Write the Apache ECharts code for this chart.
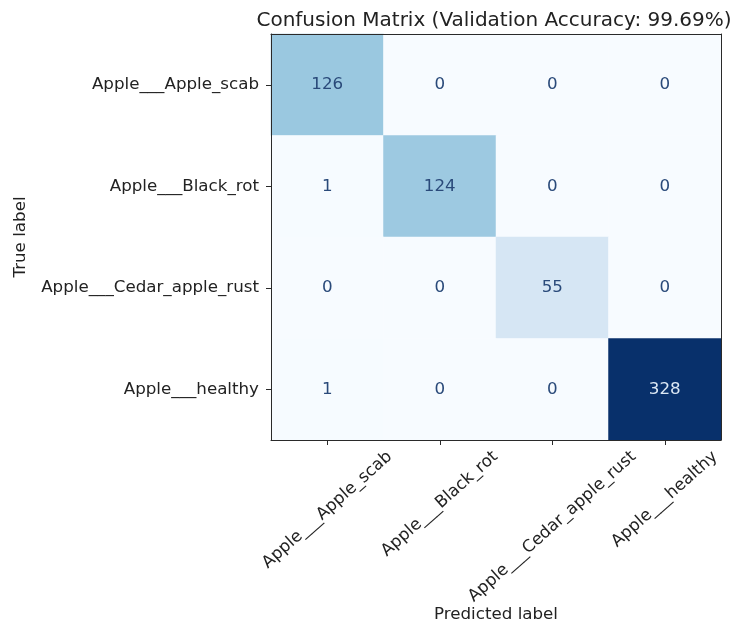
<!DOCTYPE html>
<html>
<head>
<meta charset="utf-8">
<script src="https://cdn.jsdelivr.net/npm/echarts@6/dist/echarts.min.js"></script>
<style>html,body{margin:0;padding:0;background:#fff;}#c{width:734px;height:625px;}</style>
</head>
<body>
<div id="c"></div>
<script>
const classes = ['Apple___Apple_scab', 'Apple___Black_rot', 'Apple___Cedar_apple_rust', 'Apple___healthy'];
const row0 = [126, 0, 0, 0];
const row1 = [1, 124, 0, 0];
const row2 = [0, 0, 55, 0];
const row3 = [1, 0, 0, 328];
const matrix = [row0, row1, row2, row3];
const titleText = 'Confusion Matrix (Validation Accuracy: 99.69%)';
const blues = ['#f7fbff','#deebf7','#c6dbef','#9ecae1','#6baed6','#4292c6','#2171b5','#08519c','#08306b'];

let maxV = 0;
matrix.forEach(r => r.forEach(v => { if (v > maxV) maxV = v; }));
const thresh = maxV / 2;
const data = [];
matrix.forEach((r, i) => r.forEach((v, j) => {
  data.push({ value: [j, i, v], label: { color: v > thresh ? '#dce8f5' : '#2a4a7a' } });
}));

const font = 'DejaVu Sans';
const fs = 16.7;
const rot = 41.6;
// matplotlib-style centered rotated labels: pad each label so its rotated bbox hangs below its tick
const ctx = document.createElement('canvas').getContext('2d');
ctx.font = fs + 'px "' + font + '"';
const lineH = fs * 1.2;
const cs = Math.cos(rot * Math.PI / 180), sn = Math.sin(rot * Math.PI / 180);
const rich = {};
classes.forEach((c, i) => {
  const L = ctx.measureText(c).width;
  const K = L * sn + lineH * cs;
  rich['r' + i] = { fontFamily: font, fontSize: fs, color: '#222', lineHeight: lineH, padding: [cs * K, sn * K, 0, 0] };
});

const chart = echarts.init(document.getElementById('c'), null, { renderer: 'canvas' });
const gridL = 271, gridT = 34, gridW = 450, gridH = 406;
const frameLine = { show: true, lineStyle: { color: '#2a2a2a', width: 1 } };
chart.setOption({
  backgroundColor: '#fff',
  animation: false,
  textStyle: { fontFamily: font },
  title: {
    text: titleText, left: 489, top: 6, textAlign: 'center',
    textStyle: { fontFamily: font, fontSize: 20, fontWeight: 'normal', color: '#222' }
  },
  grid: { left: gridL, top: gridT, width: gridW, height: gridH, containLabel: false, outerBoundsMode: 'none' },
  visualMap: { show: false, min: 0, max: maxV, dimension: 2, inRange: { color: blues } },
  xAxis: [{
    type: 'category', data: classes, position: 'bottom', z: 5,
    name: 'Predicted label', nameLocation: 'middle', nameGap: 166, nameMoveOverlap: false,
    nameTextStyle: { fontFamily: font, fontSize: fs, color: '#222' },
    axisLine: frameLine,
    axisTick: { show: true, alignWithLabel: true, length: 5, lineStyle: { color: '#2a2a2a' } },
    axisLabel: {
      rotate: rot, interval: 0, align: 'center', verticalAlign: 'middle', margin: 7,
      fontFamily: font, fontSize: fs, color: '#222',
      formatter: (val, idx) => '{r' + idx + '|' + val + '}', rich: rich
    },
    splitLine: { show: false }
  }, {
    type: 'category', data: classes, position: 'top', z: 5,
    axisLine: frameLine,
    axisTick: { show: false }, axisLabel: { show: false }, splitLine: { show: false }
  }],
  yAxis: [{
    type: 'category', data: classes, inverse: true, position: 'left', z: 5,
    name: 'True label', nameLocation: 'middle', nameGap: 242, nameRotate: 90, nameMoveOverlap: false,
    nameTextStyle: { fontFamily: font, fontSize: fs, color: '#222' },
    axisLine: frameLine,
    axisTick: { show: true, alignWithLabel: true, length: 5, lineStyle: { color: '#2a2a2a' } },
    axisLabel: { interval: 0, fontFamily: font, fontSize: fs, color: '#222', margin: 12 },
    splitLine: { show: false }
  }, {
    type: 'category', data: classes, inverse: true, position: 'right', z: 5,
    axisLine: frameLine,
    axisTick: { show: false }, axisLabel: { show: false }, splitLine: { show: false }
  }],
  series: [{
    type: 'heatmap', xAxisIndex: 0, yAxisIndex: 0, data: data, z: 1,
    label: { show: true, fontFamily: font, fontSize: fs },
    itemStyle: { borderWidth: 0 },
    emphasis: { disabled: true }
  }]
});
</script>
</body>
</html>
